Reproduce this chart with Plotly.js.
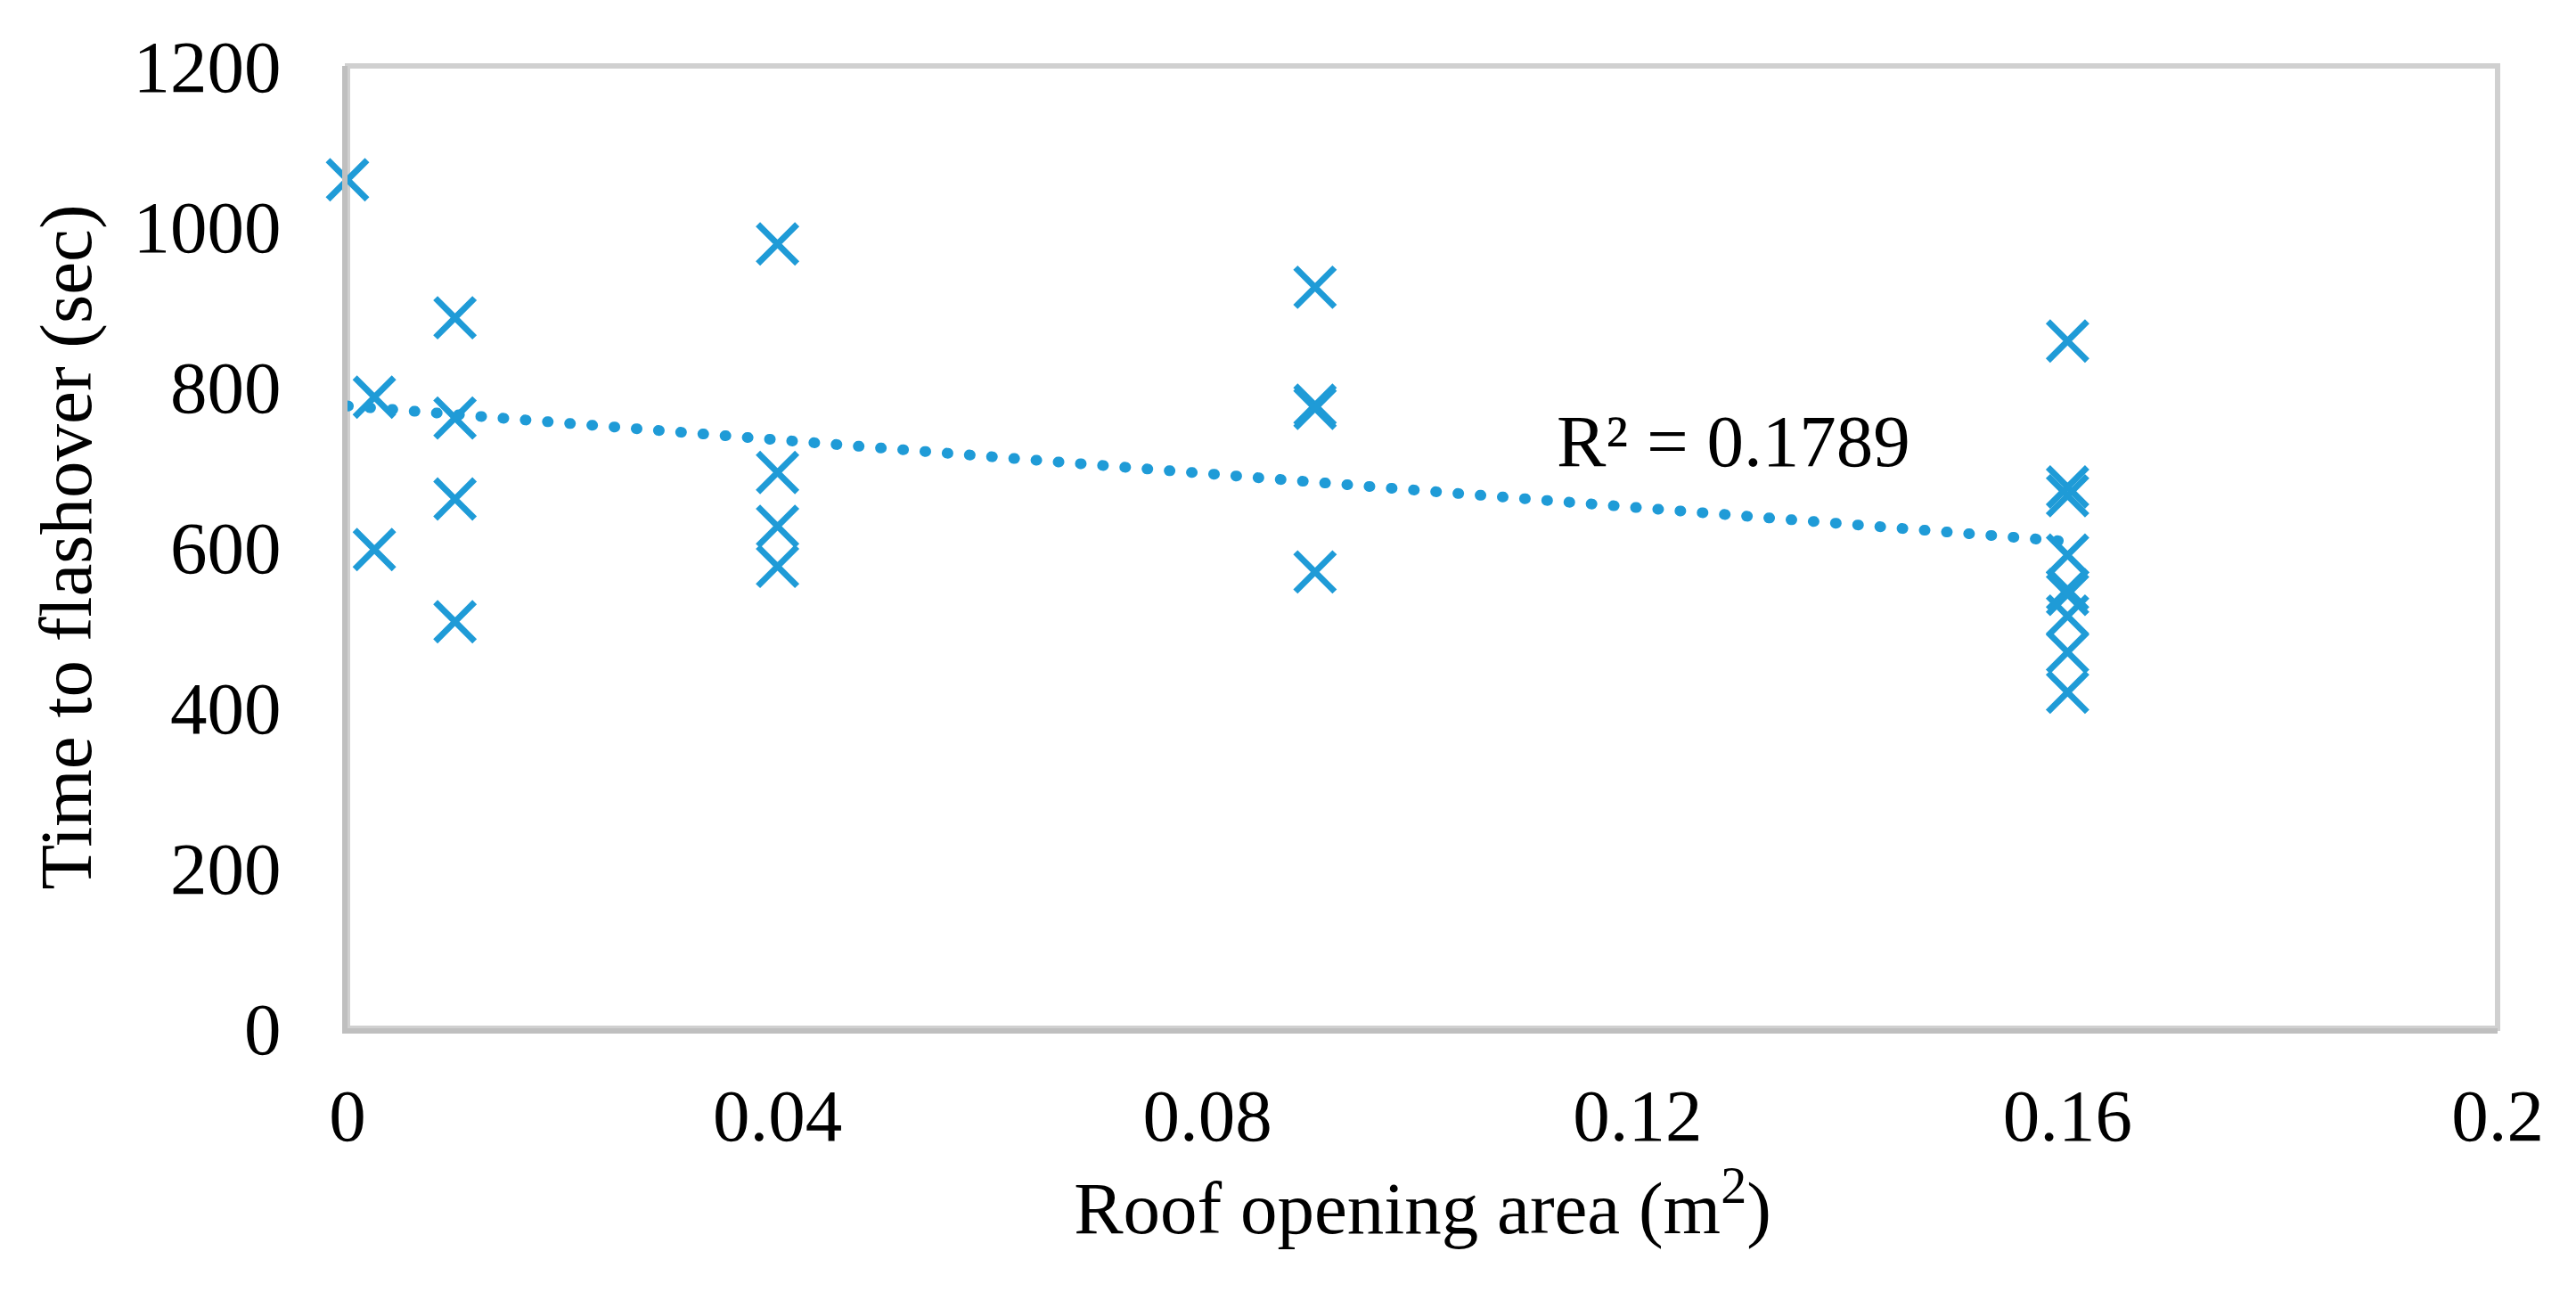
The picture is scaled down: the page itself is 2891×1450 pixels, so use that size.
<!DOCTYPE html>
<html>
<head>
<meta charset="utf-8">
<script src="https://cdn.plot.ly/plotly-3.0.1.min.js"></script>
<style>
html, body { margin: 0; padding: 0; background: #ffffff; }
#chart { width: 2891px; height: 1450px; }
.scatterlayer .js-line { stroke-linecap: round; }
</style>
</head>
<body>
<div id="chart"></div>
<script>
// Roof opening areas (m²) and the measured times to flashover (sec) at each
const roofArea = [0, 0.0025, 0.01, 0.04, 0.09, 0.16];
const time_area0     = [1058];
const time_area0025  = [787, 597];
const time_area001   = [886, 761, 660, 507];
const time_area004   = [978, 693, 626, 576];
const time_area009   = [924, 777, 773, 569];
const time_area016   = [857, 675, 664, 590, 547, 541, 514, 469, 419];

// Linear trendline as drawn (end points)
const trendX = [0, 0.16];
const trendY = [776, 607];
const rSquaredText = 'R² = 0.1789';

// Axis ticks
const xTickVals = [0, 0.04, 0.08, 0.12, 0.16, 0.2];
const xTickText = ['0', '0.04', '0.08', '0.12', '0.16', '0.2'];
const yTickVals = [0, 200, 400, 600, 800, 1000, 1200];
const yTickText = ['0', '200', '400', '600', '800', '1000', '1200'];

const timeGroups = [time_area0, time_area0025, time_area001, time_area004, time_area009, time_area016];
const ptsX = [], ptsY = [];
timeGroups.forEach(function (g, i) {
  g.forEach(function (t) { ptsX.push(roofArea[i]); ptsY.push(t); });
});

const blue = '#1f9bd7';
const fontFam = '"Liberation Serif", "Times New Roman", Times, serif';
const fs = 83;

const traces = [
  {
    type: 'scatter', mode: 'markers',
    x: ptsX, y: ptsY,
    cliponaxis: false,
    marker: { symbol: 'x-thin-open', size: 44, color: blue, line: { color: blue, width: 7 } },
    showlegend: false, hoverinfo: 'x+y'
  },
  {
    type: 'scatter', mode: 'lines',
    x: trendX, y: trendY,
    cliponaxis: false,
    line: { color: blue, width: 12, dash: '1px,24px' },
    showlegend: false, hoverinfo: 'skip'
  }
];

const layout = {
  width: 2891, height: 1450,
  paper_bgcolor: '#ffffff', plot_bgcolor: '#ffffff',
  margin: { l: 389.5, r: 87.5, t: 74, b: 296, pad: 0 },
  font: { family: fontFam, size: fs, color: '#000000' },
  showlegend: false,
  xaxis: {
    range: [0, 0.2], fixedrange: true,
    tickmode: 'array', tickvals: xTickVals, ticktext: xTickText,
    showgrid: false, zeroline: false,
    showline: true, linecolor: '#bfbfbf', linewidth: 6,
    ticks: '', ticklabelstandoff: 20,
    tickfont: { family: fontFam, size: fs, color: '#000000' },
    title: { text: 'Roof opening area (m<sup>2</sup>)', font: { family: fontFam, size: fs, color: '#000000' }, standoff: 30 }
  },
  yaxis: {
    range: [0, 1200], fixedrange: true,
    tickmode: 'array', tickvals: yTickVals, ticktext: yTickText,
    showgrid: false, zeroline: false,
    showline: true, linecolor: '#bfbfbf', linewidth: 6,
    ticks: '', ticklabelstandoff: 52,
    tickfont: { family: fontFam, size: fs, color: '#000000' },
    title: { text: 'Time to flashover (sec)', font: { family: fontFam, size: fs, color: '#000000' }, standoff: 21 }
  },
  shapes: [
    { type: 'rect', xref: 'paper', yref: 'paper', x0: 0, x1: 1, y0: 0, y1: 1,
      line: { color: '#d0d0d0', width: 6 }, fillcolor: 'rgba(0,0,0,0)', layer: 'below' }
  ],
  annotations: [
    { xref: 'x', yref: 'y', x: 0.1289, y: 732, text: rSquaredText, showarrow: false,
      xanchor: 'center', yanchor: 'middle',
      font: { family: fontFam, size: fs, color: '#000000' } }
  ]
};

Plotly.newPlot('chart', traces, layout, { staticPlot: true, displayModeBar: false });
</script>
</body>
</html>
